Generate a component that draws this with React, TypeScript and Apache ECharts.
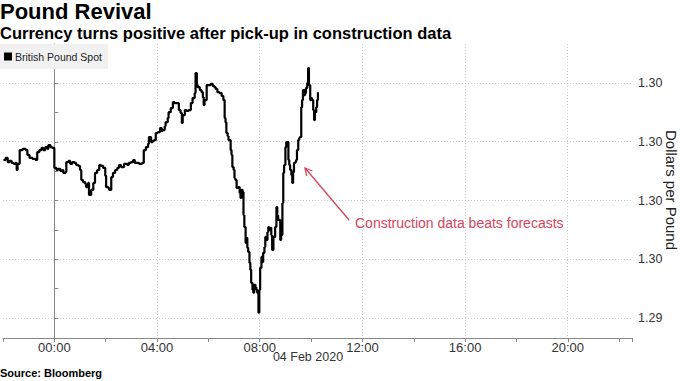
import React, { useEffect, useRef } from "react";
import * as echarts from "echarts";

// Minutes relative to 00:00 on 04 Feb 2020 (negative = 03 Feb evening)
const minutes = [
  -119, -114, -109, -105, -100, -95, -91, -88, -86, -81, -74, -67, -63, -58, -51, -44, -40, -35, -30, -26, -21, -16, -14, -9, -5,
  0, 5, 9, 14, 19, 21, 26, 28, 33, 37, 42, 47, 51, 56, 60, 63, 67, 72, 74, 79, 81, 86, 91, 95, 100, 105, 109, 114, 119, 121, 126,
  128, 133, 137, 142, 147, 151, 156, 163, 170, 174, 179, 184, 188, 193, 198, 205, 209, 214, 219, 221, 226, 230, 233, 237, 242,
  247, 251, 253, 258, 260, 265, 267, 272, 277, 281, 286, 291, 295, 298, 300, 305, 309, 314, 319, 323, 328, 330, 333, 335, 340,
  344, 347, 349, 351, 356, 360, 365, 370, 374, 377, 381, 386, 391, 395, 398, 400, 402, 405, 407, 412, 414, 416, 419, 421, 423,
  426, 430, 433, 435, 437, 440, 442, 444, 447, 449, 451, 453, 456, 458, 460, 463, 465, 467, 470, 472, 474, 477, 479, 481, 484,
  486, 488, 491, 493, 495, 498, 500, 502, 505, 507, 509, 512, 514, 516, 519, 521, 523, 526, 528, 530, 533, 535, 537, 540, 542,
  544, 547, 549, 551, 554, 556, 558, 560, 563, 565, 567, 570, 572, 574, 577, 579, 581, 584, 586, 588, 591, 593, 595, 598, 600,
  602, 605, 607, 609, 612, 614, 616,
];

// British Pound Spot (USD per GBP)
const prices = [
  1.29938, 1.29945, 1.29931, 1.29935, 1.29928, 1.29925, 1.29928, 1.29904, 1.29925, 1.29972, 1.29976, 1.29972, 1.29955, 1.29945,
  1.29942, 1.29938, 1.29965, 1.29972, 1.29979, 1.29972, 1.29982, 1.29976, 1.29989, 1.29982, 1.29979,
  1.29911, 1.29904, 1.29908, 1.29901, 1.29904, 1.29894, 1.29897, 1.29931, 1.29935, 1.29925, 1.29931, 1.29928, 1.29921, 1.29918,
  1.29904, 1.2987, 1.29863, 1.29857, 1.29846, 1.2986, 1.29819, 1.29836, 1.2986, 1.29894, 1.29904, 1.29921, 1.29918, 1.29911,
  1.29884, 1.29846, 1.29843, 1.29836, 1.2988, 1.29894, 1.29904, 1.29911, 1.29921, 1.29914, 1.29925, 1.29921, 1.29928, 1.29931,
  1.29938, 1.29928, 1.29928, 1.29925, 1.29928, 1.29972, 1.29982, 1.29993, 1.30016, 1.29999, 1.30003, 1.30006, 1.3003, 1.30033,
  1.30047, 1.30037, 1.3004, 1.30054, 1.30067, 1.30081, 1.30101, 1.30115, 1.30135, 1.30132, 1.30132, 1.30108, 1.30098, 1.30064,
  1.30091, 1.30108, 1.30105, 1.30108, 1.30132, 1.30149, 1.30166, 1.30234, 1.30193, 1.30186, 1.30176, 1.30169, 1.30152, 1.30125,
  1.30142, 1.30193, 1.30193, 1.30197, 1.3019, 1.30186, 1.3018, 1.30169, 1.30166, 1.30156, 1.30142, 1.30081, 1.30067, 1.3003,
  1.3002, 1.30006, 1.29972, 1.29955, 1.29914, 1.29904, 1.29877, 1.2987, 1.29843, 1.29846, 1.29826, 1.29809, 1.29836, 1.29829,
  1.29751, 1.2971, 1.29656, 1.29673, 1.29639, 1.29625, 1.29588, 1.29564, 1.2952, 1.29496, 1.29486, 1.29513, 1.29506, 1.29496,
  1.29486, 1.29418, 1.29496, 1.29571, 1.29608, 1.29591, 1.29622, 1.29642, 1.29676, 1.29666, 1.29693, 1.2971, 1.297, 1.29707,
  1.29683, 1.29632, 1.29676, 1.29676, 1.2971, 1.29778, 1.29751, 1.29734, 1.29734, 1.29666, 1.29683, 1.29792, 1.29894, 1.29921,
  1.29982, 1.29999, 1.29999, 1.29938, 1.29921, 1.29904, 1.29887, 1.2986, 1.29897, 1.29928, 1.29931, 1.29938, 1.29972, 1.30006,
  1.30013, 1.30016, 1.30118, 1.30142, 1.30176, 1.30159, 1.30166, 1.30183, 1.302, 1.30251, 1.30193, 1.30142, 1.30149, 1.30142,
  1.30108, 1.30074, 1.30101, 1.30118, 1.30142, 1.30169,
];

const yLabelValues = [1.294, 1.296, 1.298, 1.3, 1.302];
const yTickValues = [1.294, 1.295, 1.296, 1.297, 1.298, 1.299, 1.3, 1.301, 1.302, 1.303];
const xGridHours = [0, 4, 8, 12, 16, 20];

export default function App() {
  const ref = useRef<HTMLDivElement>(null);
  useEffect(() => {
    if (!ref.current) return;
    const chart = echarts.init(ref.current, undefined, { renderer: "svg" });
    const data = minutes.map((m, i) => [m / 60, prices[i]]);
    const red = "#d6455c";
    const texts: any[] = [
      { type: "text", left: 0, top: 0, style: { text: "Pound Revival", font: "bold 22px 'Liberation Sans'", lineHeight: 23, fill: "#000" } },
      { type: "text", left: 0, top: 24, style: { text: "Currency turns positive after pick-up in construction data", font: "bold 16.5px 'Liberation Sans'", lineHeight: 17, fill: "#000" } },
      { type: "text", left: 0, top: 367, style: { text: "Source: Bloomberg", font: "bold 11px 'Liberation Sans'", fill: "#000" } },
      { type: "text", x: 308, y: 357, style: { text: "04 Feb 2020", font: "12.5px 'Liberation Sans'", fill: "#333", textAlign: "center", textVerticalAlign: "middle" } },
      { type: "text", x: 671, y: 190, rotation: -Math.PI / 2, style: { text: "Dollars per Pound", font: "15px 'Liberation Sans'", fill: "#222", textAlign: "center", textVerticalAlign: "middle" } },
      { type: "text", x: 355, y: 223, style: { text: "Construction data beats forecasts", font: "14px 'Liberation Sans'", fill: red, textAlign: "left", textVerticalAlign: "middle" } },
      { type: "line", shape: { x1: 349, y1: 220, x2: 305, y2: 168 }, style: { stroke: red, lineWidth: 1.3 } },
      { type: "polyline", shape: { points: [[306.7, 175.8], [305, 168], [312.4, 171]] }, style: { stroke: red, lineWidth: 1.3, fill: null } },
    ];
    chart.setOption({
      animation: false,
      textStyle: { fontFamily: "Liberation Sans" },
      grid: { left: 0, right: 48, top: 44, bottom: 43, containLabel: false },
      legend: {
        show: true,
        left: 0,
        top: 44,
        padding: [7, 6, 7, 4],
        backgroundColor: "#f1f1f1",
        icon: "rect",
        itemWidth: 8,
        itemHeight: 8,
        itemGap: 4,
        textStyle: { fontSize: 10.5, color: "#222", fontFamily: "Liberation Sans", padding: [0, 0, 0, -2] },
        data: ["British Pound Spot"],
      },
      xAxis: {
        type: "value",
        min: -2,
        max: 22.5,
        interval: 2,
        axisLine: { show: true, lineStyle: { color: "#888", width: 1 } },
        axisTick: { show: true, length: 4, lineStyle: { color: "#888" } },
        splitLine: { show: false },
        axisLabel: {
          fontSize: 13,
          color: "#333",
          margin: 3,
          fontFamily: "Liberation Sans",
          formatter: (v: number) => {
            if (v < 0 || v % 4 !== 0) return "";
            return String(v).padStart(2, "0") + ":00";
          },
        },
      },
      yAxis: {
        type: "value",
        position: "right",
        min: 1.29332,
        max: 1.30333,
        axisLine: { show: true, lineStyle: { color: "#888", width: 1 } },
        axisTick: { show: true, length: 4, inside: false, customValues: yTickValues, lineStyle: { color: "#888" } },
        splitLine: { show: false },
        axisLabel: {
          customValues: yLabelValues,
          fontSize: 12.5,
          color: "#333",
          margin: 6,
          fontFamily: "Liberation Sans",
          formatter: (v: number) => v.toFixed(2),
        },
      },
      series: [
        {
          name: "British Pound Spot",
          type: "line",
          data,
          showSymbol: false,
          step: "end",
          itemStyle: { color: "#000" },
          lineStyle: { color: "#000", width: 2.2 },
          z: 3,
        },
      ],
      graphic: texts,
    });

    // Grid lines placed through the library's own scales
    const left = chart.convertToPixel({ gridIndex: 0 }, [-2, 1.30333]) as number[];
    const right = chart.convertToPixel({ gridIndex: 0 }, [22.5, 1.29332]) as number[];
    const gridLines: any[] = [];
    xGridHours.forEach((h) => {
      const p = chart.convertToPixel({ xAxisIndex: 0 }, h) as number;
      const x = Math.floor(p) + 0.5;
      gridLines.push({
        type: "line",
        z: -1,
        silent: true,
        shape: { x1: x, y1: left[1], x2: x, y2: right[1] },
        style: h === 0 ? { stroke: "#dddddd", lineWidth: 1 } : { stroke: "#cfcfcf", lineWidth: 1, lineDash: [1, 2] },
      });
    });
    yLabelValues.forEach((v) => {
      const p = chart.convertToPixel({ yAxisIndex: 0 }, v) as number;
      const y = Math.floor(p) + 0.5;
      gridLines.push({
        type: "line",
        z: -1,
        silent: true,
        shape: { x1: left[0], y1: y, x2: right[0], y2: y },
        style: { stroke: "#cfcfcf", lineWidth: 1, lineDash: [1, 2] },
      });
    });
    chart.setOption({ graphic: [...texts, ...gridLines] });
    return () => chart.dispose();
  }, []);
  return <div ref={ref} style={{ width: 680, height: 381, position: "absolute", left: 0, top: 0 }} />;
}
